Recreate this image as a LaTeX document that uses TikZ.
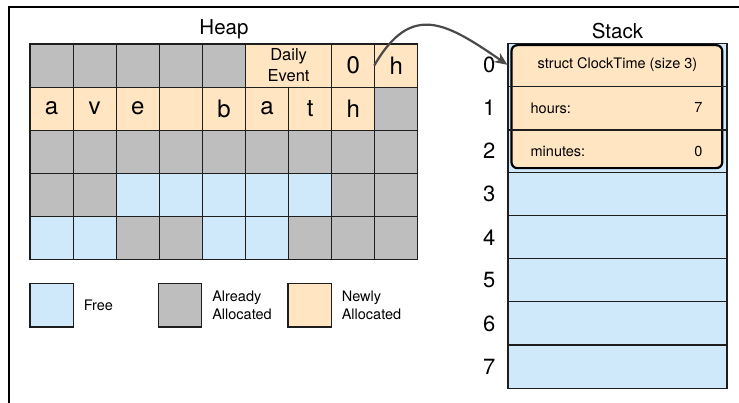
\documentclass[tikz,border=0pt]{standalone}
\usepackage{fontspec}
\setmainfont{TeX Gyre Heros}
\usepackage{tikz}
\usetikzlibrary{
  arrows.meta,
  positioning,
  calc
}
\usepackage{xcolor}
\definecolor{fillFree}{RGB}{207, 232, 250}
\definecolor{fillUsed}{RGB}{190, 190, 190}
\definecolor{fillNew}{RGB}{255, 229, 193}
\definecolor{gridclr}{RGB}{30, 30, 30}
\definecolor{ptrclr}{RGB}{74, 74, 74}
\tikzset{
  % Kataklar
  cellbase/.style = {draw=gridclr, line width=1.1pt, minimum width=43.1pt,
                     minimum height=43.1pt, inner sep=0pt,
                     font=\fontsize{24}{26}\selectfont},
  freecell/.style = {cellbase, fill=fillFree},
  usedcell/.style = {cellbase, fill=fillUsed},
  newcell/.style  = {cellbase, fill=fillNew},
  % Stek qatorlari
  stackrow/.style = {draw=gridclr, line width=1.1pt, fill=fillFree,
                     minimum width=219pt, minimum height=43.1pt, inner sep=0pt},
  structbox/.style= {draw=black, line width=2.2pt, fill=fillNew, rounded corners=6pt},
  divline/.style  = {draw=gridclr, line width=1.1pt},
  % Etiketlar
  titlelab/.style = {font=\fontsize{20.5}{24}\selectfont, inner sep=2pt},
  idxlab/.style   = {font=\fontsize{22}{24}\selectfont, inner sep=0pt},
  fieldlab/.style = {font=\fontsize{14.5}{17}\selectfont, inner sep=0pt},
  leglab/.style   = {font=\fontsize{14.5}{17.5}\selectfont, align=left, inner sep=0pt},
  % Ko'rsatkich
  ptrarrow/.style = {-{Stealth[length=13pt, width=11pt]}, line width=2.2pt, ptrclr},
}
\begin{document}
\begin{tikzpicture}[x=1pt, y=-1pt]
  \useasboundingbox (0,0) rectangle (739,403);
  % Ramka
  \draw[line width=2.2pt] (9,403) -- (9,7) -- (739,7);
  % Heap kataklari
  \foreach \r/\row in {
      0/{usedcell/{},usedcell/{},usedcell/{},usedcell/{},usedcell/{},newcell/{},newcell/{},newcell/0,newcell/h},
      1/{newcell/a,newcell/v,newcell/e,newcell/{},newcell/b,newcell/a,newcell/t,newcell/h,usedcell/{}},
      2/{usedcell/{},usedcell/{},usedcell/{},usedcell/{},usedcell/{},usedcell/{},usedcell/{},usedcell/{},usedcell/{}},
      3/{usedcell/{},usedcell/{},freecell/{},freecell/{},freecell/{},freecell/{},freecell/{},usedcell/{},usedcell/{}},
      4/{freecell/{},freecell/{},usedcell/{},usedcell/{},freecell/{},freecell/{},usedcell/{},usedcell/{},usedcell/{}}} {
    \foreach \s/\t [count=\c from 0] in \row {
      \node[\s] (h-\r-\c) at ({30+43.1*(\c+0.5)}, {44+43.1*(\r+0.5)}) {\t};
    }
  }
  \node[newcell, minimum width=86.2pt, align=center,
        font=\fontsize{16.5}{21}\selectfont] (daily) at (288.6,65.55) {Daily\\Event};
  \node[titlelab, above=2pt of h-0-4] (heaplab) {Heap};
  % Stek
  \foreach \i in {0,...,7} {
    \node[stackrow] (s\i) at (617.5, {43.3+43.1*(\i+0.5)}) {};
    \node[idxlab, left=12pt of s\i] (n\i) {\i};
  }
  \node[titlelab, above=2pt of s0] (stacklab) {Stack};
  % struct ClockTime
  \draw[structbox] ($(s0.north west)+(4,2.4)$) rectangle ($(s2.south east)+(-5.3,-5)$);
  \draw[divline] (s0.south west) -- (s0.south east);
  \draw[divline] (s1.south west) -- (s1.south east);
  \node[fieldlab] (sttl) at (s0) {struct ClockTime (size 3)};
  \node[fieldlab, anchor=west] (hrs) at ($(s1.west)+(23,0)$) {hours:};
  \node[fieldlab, anchor=east] (hrsv) at ($(s1.east)+(-25,0)$) {7};
  \node[fieldlab, anchor=west] (mins) at ($(s2.west)+(23,0)$) {minutes:};
  \node[fieldlab, anchor=east] (minsv) at ($(s2.east)+(-25,0)$) {0};
  % Ko'rsatkich
  \draw[ptrarrow] (h-0-8.west) .. controls +(37,-64) and +(-61,-42) .. (s0.west);
  % Legenda
  \node[freecell] (legfree) at (51.5,305.5) {};
  \node[leglab, right=10pt of legfree] (legfreetxt) {Free};
  \node[usedcell] (legused) at (180,305.5) {};
  \node[leglab, right=10pt of legused] (legusedtxt) {Already\\Allocated};
  \node[newcell] (legnew) at (309.5,305.5) {};
  \node[leglab, right=10pt of legnew] (legnewtxt) {Newly\\Allocated};
\end{tikzpicture}
\end{document}
